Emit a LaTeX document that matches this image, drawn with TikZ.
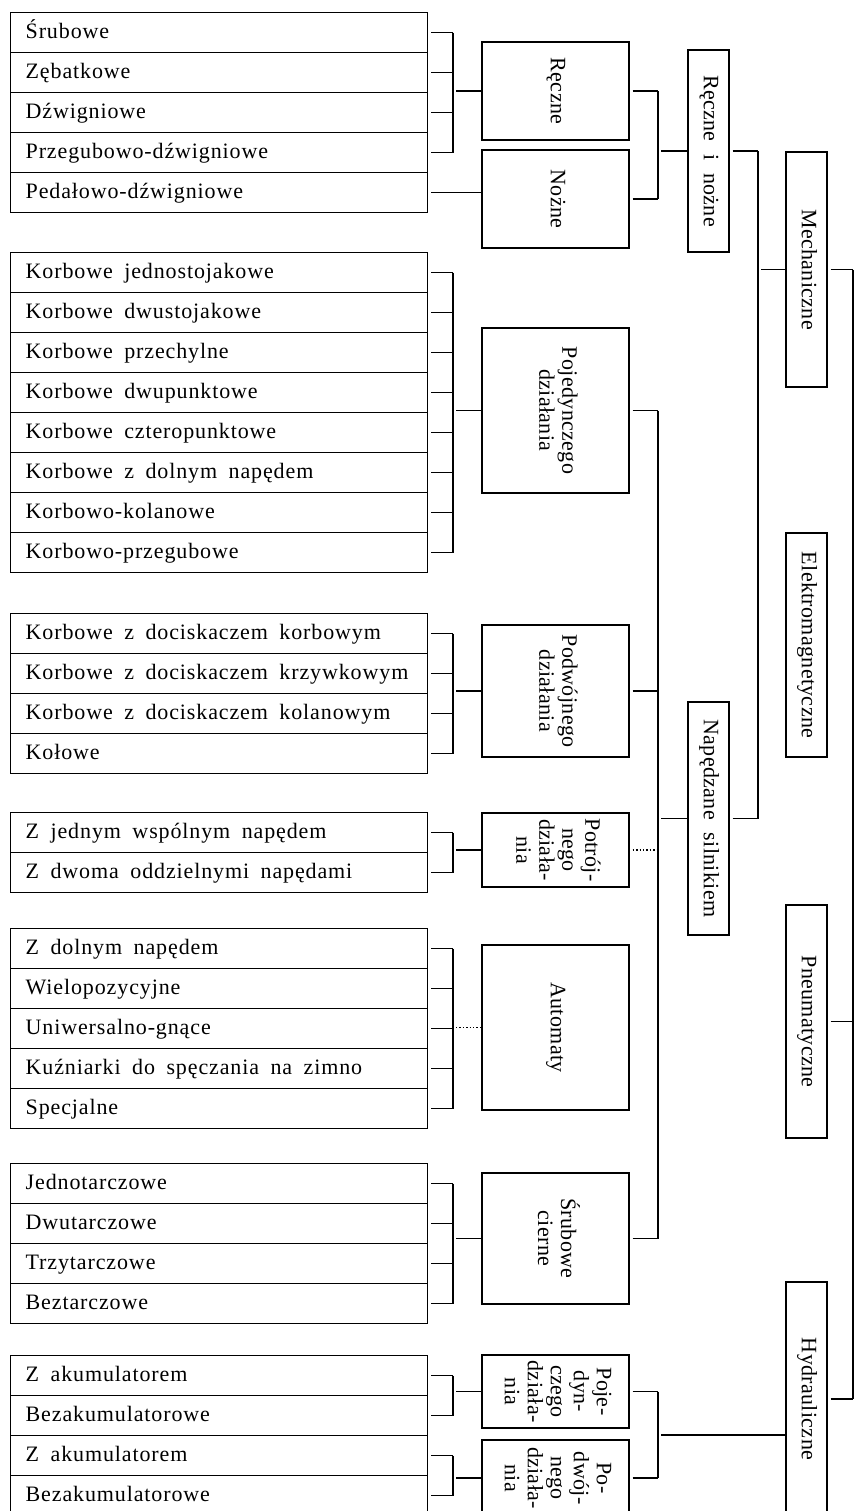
\documentclass[tikz,border=0pt]{standalone}
\usepackage{fontspec}
\setmainfont{Liberation Serif}[LetterSpace=1.5,WordSpace=2.2]
\newfontfamily\rowfont{Liberation Serif}[LetterSpace=4,WordSpace=1.8]
\usepackage{graphicx}
\newcommand{\vlab}[1]{\rotatebox{-90}{\begin{tabular}{@{}c@{}}#1\end{tabular}}}

\tikzset{
  row/.style={draw, anchor=north west, text width=193.5pt, inner xsep=7.5pt,
    inner ysep=0pt, minimum height=20pt, text height=8pt, text depth=2.5pt,
    font=\rowfont\fontsize{11}{11.5}\selectfont,
    execute at begin node={\spaceskip=0pt\relax}},
  cat/.style 2 args={draw, inner sep=0pt, minimum width=#1, minimum height=#2},
  link/.style={shorten <=1.5pt},
}

\begin{document}
\begin{tikzpicture}[x=0.5pt, y=-0.5pt, line width=0.7pt, font=\fontsize{11}{11.5}\selectfont]
\useasboundingbox (0,0) rectangle (855,1511);
% Bars
\coordinate (bar) at (453,0);
\coordinate (bus) at (658,0);
\coordinate (mbus) at (758,0);
\coordinate (rbus) at (853,0);

% Reczne, nozne
\foreach \t [count=\i] in {Śrubowe, Zębatkowe, Dźwigniowe, Przegubowo-dźwigniowe, Pedałowo-dźwigniowe}
  \node[row] (rn-\i) at (10,{12+40*(\i-1)}) {\t};
\node[cat={73.5pt}{49pt}] (reczne) at (555.5,91) {\vlab{Ręczne}};
\node[cat={73.5pt}{49pt}] (nozne) at (555.5,199) {\vlab{Nożne}};
\foreach \i in {1,...,4} \draw[link] (rn-\i.east) -- (rn-\i.east -| bar);
\draw (rn-1.east -| bar) -- (rn-4.east -| bar);
\draw[link] (reczne.west -| bar) -- (reczne.west);
\draw[link] (rn-5.east) -- (rn-5.east -| nozne.west);

% Pojedynczego dzialania
\foreach \t [count=\i] in {Korbowe jednostojakowe, Korbowe dwustojakowe, Korbowe przechylne,
    Korbowe dwupunktowe, Korbowe czteropunktowe, Korbowe z dolnym napędem,
    Korbowo-kolanowe, Korbowo-przegubowe}
  \node[row] (poj-\i) at (10,{252+40*(\i-1)}) {\t};
\node[cat={73.5pt}{82.5pt}] (poj) at (555.5,410.5) {\vlab{Pojedynczego\\działania}};
\foreach \i in {1,...,8} \draw[link] (poj-\i.east) -- (poj-\i.east -| bar);
\draw (poj-1.east -| bar) -- (poj-8.east -| bar);
\draw[link] (poj.west -| bar) -- (poj.west);

% Podwojnego dzialania
\foreach \t [count=\i] in {Korbowe z dociskaczem korbowym, Korbowe z dociskaczem krzywkowym,
    Korbowe z dociskaczem kolanowym, Kołowe}
  \node[row] (podw-\i) at (10,{613+40*(\i-1)}) {\t};
\node[cat={73.5pt}{66pt}] (podw) at (555.5,691) {\vlab{Podwójnego\\działania}};
\foreach \i in {1,...,4} \draw[link] (podw-\i.east) -- (podw-\i.east -| bar);
\draw (podw-1.east -| bar) -- (podw-4.east -| bar);
\draw[link] (podw.west -| bar) -- (podw.west);

% Potrojnego dzialania
\foreach \t [count=\i] in {Z jednym wspólnym napędem, Z dwoma oddzielnymi napędami}
  \node[row] (potr-\i) at (10,{812+40*(\i-1)}) {\t};
\node[cat={73.5pt}{37pt}] (potr) at (555.5,850) {\vlab{Potrój-\\nego\\działa-\\nia}};
\foreach \i in {1,2} \draw[link] (potr-\i.east) -- (potr-\i.east -| bar);
\draw (potr-1.east -| bar) -- (potr-2.east -| bar);
\draw[link] (potr.west -| bar) -- (potr.west);

% Automaty
\foreach \t [count=\i] in {Z dolnym napędem, Wielopozycyjne, Uniwersalno-gnące,
    Kuźniarki do spęczania na zimno, Specjalne}
  \node[row] (aut-\i) at (10,{928+40*(\i-1)}) {\t};
\node[cat={73.5pt}{82.5pt}] (automaty) at (555.5,1027.5) {\vlab{Automaty}};
\foreach \i in {1,...,5} \draw[link] (aut-\i.east) -- (aut-\i.east -| bar);
\draw (aut-1.east -| bar) -- (aut-5.east -| bar);
\draw[link, densely dotted] (automaty.west -| bar) -- (automaty.west);

% Srubowe cierne
\foreach \t [count=\i] in {Jednotarczowe, Dwutarczowe, Trzytarczowe, Beztarczowe}
  \node[row] (sc-\i) at (10,{1163+40*(\i-1)}) {\t};
\node[cat={73.5pt}{65.5pt}] (scierne) at (555.5,1238.5) {\vlab{Śrubowe\\cierne}};
\foreach \i in {1,...,4} \draw[link] (sc-\i.east) -- (sc-\i.east -| bar);
\draw (sc-1.east -| bar) -- (sc-4.east -| bar);
\draw[link] (scierne.west -| bar) -- (scierne.west);

% Hydrauliczne prasy
\foreach \t [count=\i] in {Z akumulatorem, Bezakumulatorowe, Z akumulatorem, Bezakumulatorowe}
  \node[row] (hy-\i) at (10,{1355+40*(\i-1)}) {\t};
\node[cat={73.5pt}{36.5pt}] (hpoj) at (555.5,1391.5) {\vlab{Poje-\\dyn-\\czego\\działa-\\nia}};
\node[cat={73.5pt}{38pt}] (hpodw) at (555.5,1478) {\vlab{Po-\\dwój-\\nego\\działa-\\nia}};
\foreach \i in {1,...,4} \draw[link] (hy-\i.east) -- (hy-\i.east -| bar);
\draw (hy-1.east -| bar) -- (hy-2.east -| bar);
\draw (hy-3.east -| bar) -- (hy-4.east -| bar);
\draw[link] (hpoj.west -| bar) -- (hpoj.west);
\draw[link] (hpodw.west -| bar) -- (hpodw.west);

% Second column
\node[cat={20.5pt}{101pt}] (rin) at (708.5,151) {\vlab{Ręczne i nożne}};
\node[cat={20.5pt}{116.5pt}] (napedz) at (708.5,818.5) {\vlab{Napędzane silnikiem}};
\draw[link] (reczne.east) -- (reczne.east -| bus);
\draw[link] (nozne.east) -- (nozne.east -| bus);
\draw (reczne.east -| bus) -- (nozne.east -| bus);
\draw[link] (rin.west -| bus) -- (rin.west);
\draw[link] (poj.east) -- (poj.east -| bus);
\draw[link] (podw.east) -- (podw.east -| bus);
\draw[link, densely dotted] (potr.east) -- (potr.east -| bus);
\draw[link] (scierne.east) -- (scierne.east -| bus);
\draw (poj.east -| bus) -- (scierne.east -| bus);
\draw[link] (napedz.west -| bus) -- (napedz.west);

% Third column
\node[cat={20.5pt}{117.5pt}] (mech) at (806.5,269.5) {\vlab{Mechaniczne}};
\node[cat={20.5pt}{112pt}] (elektro) at (806.5,645) {\vlab{Elektromagnetyczne}};
\node[cat={20.5pt}{116.5pt}] (pneu) at (806.5,1021.5) {\vlab{Pneumatyczne}};
\node[cat={20.5pt}{117pt}] (hydr) at (806.5,1399) {\vlab{Hydrauliczne}};
\draw[link] (rin.east) -- (rin.east -| mbus);
\draw[link] (napedz.east) -- (napedz.east -| mbus);
\draw (rin.east -| mbus) -- (napedz.east -| mbus);
\draw[link] (mech.west -| mbus) -- (mech.west);
\coordinate (hout) at (658,1435);
\draw[link] (hpoj.east) -- (hpoj.east -| bus);
\draw[link] (hpodw.east) -- (hpodw.east -| bus);
\draw (hpoj.east -| bus) -- (hpodw.east -| bus);
\draw[link] (hout) -- (hout -| hydr.west);

% Right bus
\draw[link] (mech.east) -- (mech.east -| rbus);
\draw[link] (pneu.east) -- (pneu.east -| rbus);
\draw[link] (hydr.east) -- (hydr.east -| rbus);
\draw (mech.east -| rbus) -- (hydr.east -| rbus);
\end{tikzpicture}
\end{document}
